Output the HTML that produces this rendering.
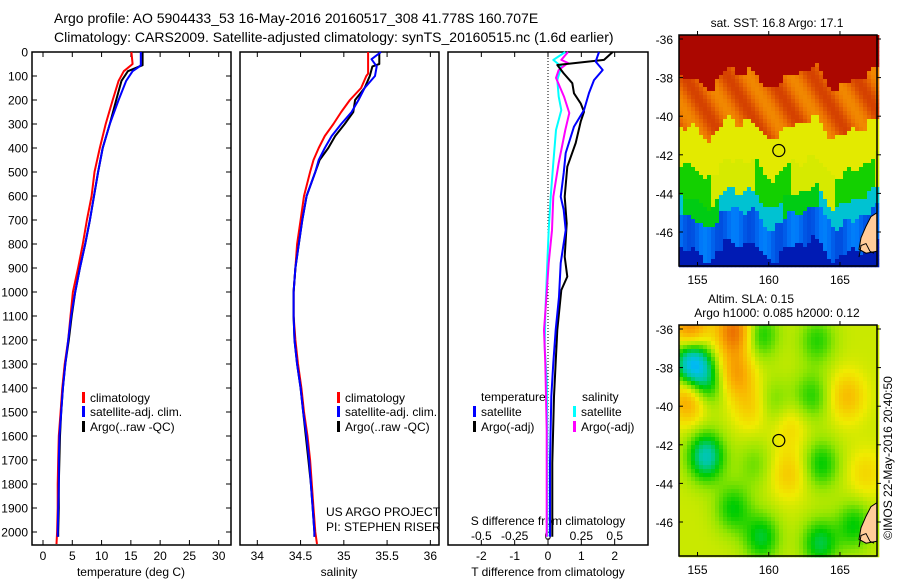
<!DOCTYPE html>
<html><head><meta charset="utf-8"><style>
html,body{margin:0;padding:0;background:#fff;}
svg{display:block;font-family:"Liberation Sans",sans-serif;}
text{fill:#000;}
</style></head><body>
<svg id="chart" width="900" height="580" viewBox="0 0 900 580" xmlns="http://www.w3.org/2000/svg">
<text x="54" y="23" font-size="14">Argo profile: AO 5904433_53 16-May-2016 20160517_308 41.778S 160.707E</text>
<text x="54" y="42" font-size="14">Climatology: CARS2009. Satellite-adjusted climatology: synTS_20160515.nc (1.6d earlier)</text>
<g id="g"></g>
</svg>
<script>
// ---- data ----
const tempClimP = [0,50,60,80,120,200,300,400,500,600,700,800,900,1000,1100,1200,1300,1400,1500,1600,1700,1800,1900,2000,2050];
const tempClim  = [15.1,15.3,14.8,13.8,12.9,11.9,10.7,9.7,8.8,8.3,7.5,6.8,6.0,5.1,4.7,4.3,3.7,3.3,3.0,2.7,2.6,2.5,2.5,2.4,2.3];
const tempSatP  = [0,55,65,80,120,200,300,400,500,600,700,800,900,1000,1100,1200,1300,1400,1500,1600,1700,1800,1900,2000,2020];
const tempSat   = [16.7,16.7,16.2,15.3,14.2,12.9,11.4,10.2,9.4,8.7,8.0,7.2,6.3,5.5,4.8,4.3,3.8,3.4,3.1,2.8,2.7,2.7,2.6,2.5,2.5];
const tempArgoP = [0,55,65,80,120,200,300,400,500,600,700,800,900,1000,1100,1200,1300,1400,1500,1600,1700,1800,1900,2000,2020];
const tempArgo  = [17.0,17.0,16.0,14.5,13.4,12.5,11.4,10.2,9.4,8.7,8.0,7.2,6.3,5.5,4.9,4.4,3.8,3.4,3.1,2.9,2.8,2.7,2.7,2.6,2.6];
const salClimP = [0,90,100,150,200,250,300,350,400,450,500,600,700,800,900,1000,1100,1200,1300,1400,1500,1600,1700,1800,1900,2000,2050];
const salClim  = [35.28,35.28,35.26,35.20,35.07,34.97,34.88,34.78,34.71,34.65,34.61,34.54,34.50,34.46,34.44,34.42,34.42,34.44,34.47,34.51,34.54,34.58,34.61,34.63,34.65,34.67,34.69];
const salSatP  = [0,30,60,100,150,200,250,300,350,400,450,500,600,700,800,900,1000,1100,1200,1300,1400,1500,1600,1700,1800,1900,2000,2020];
const salSat   = [35.43,35.32,35.38,35.36,35.24,35.17,35.09,34.97,34.86,34.78,34.71,34.67,34.57,34.52,34.48,34.44,34.42,34.42,34.43,34.46,34.50,34.53,34.57,34.60,34.62,34.64,34.66,34.66];
const salArgoP = [0,50,60,100,150,200,250,300,350,400,450,500,600,700,800,900,1000,1100,1200,1300,1400,1500,1600,1700,1800,1900,2000,2020];
const salArgo  = [35.41,35.41,35.33,35.30,35.24,35.13,35.11,35.01,34.90,34.82,34.72,34.67,34.57,34.52,34.48,34.44,34.42,34.42,34.43,34.46,34.50,34.53,34.56,34.59,34.62,34.64,34.66,34.66];
const dTsatP = [0,40,75,117,171,242,311,421,504,603,658,742,879,1020,1158,1296,1436,1712,2020];
const dTsat  = [1.53,1.43,1.64,1.38,1.23,1.08,0.78,0.53,0.47,0.38,0.47,0.53,0.38,0.33,0.23,0.16,0.10,0.06,0.06];
const dTargoP = [0,33,54,89,130,172,214,249,290,379,478,603,714,853,936,992,1158,1436,1712,2020];
const dTargo  = [1.94,1.68,0.28,0.47,0.73,0.78,0.98,1.08,0.98,0.83,0.58,0.50,0.56,0.50,0.58,0.40,0.28,0.18,0.13,0.13];
const dSsatP = [0,33,61,117,186,242,325,462,603,742,879,1088,1228,1367,1575,2020];
const dSsat  = [0.13,0.04,0.10,0.07,0.08,0.10,0.06,0.04,0.02,0.005,-0.005,-0.02,-0.025,-0.01,-0.005,-0.005];
const dSargoP = [0,33,46,75,108,186,254,325,462,603,742,879,1088,1158,1296,1575,2020];
const dSargo  = [0.15,0.10,0.15,0.08,0.06,0.12,0.16,0.13,0.08,0.04,0.03,0.005,-0.02,-0.03,-0.02,-0.01,-0.01];
const depthTicks = [0,100,200,300,400,500,600,700,800,900,1000,1100,1200,1300,1400,1500,1600,1700,1800,1900,2000];
const tempTicks = [0,5,10,15,20,25,30];
const salTicks = [34,34.5,35,35.5,36];
const salTickLabels = ["34","34.5","35","35.5","36"];
const dTTicks = [-2,-1,0,1,2];
const dSTicks = [-0.5,-0.25,0,0.25,0.5];
const dSTickLabels = ["-0.5","-0.25","0","0.25","0.5"];
const latTicks = [-36,-38,-40,-42,-44,-46];
const lonTicks = [155,160,165];
const argoLon = 160.707, argoLat = -41.778;

const NS="http://www.w3.org/2000/svg";
const G=document.getElementById('g');
function el(tag,attrs,parent,txt){const e=document.createElementNS(NS,tag);for(const k in attrs)e.setAttribute(k,attrs[k]);if(txt!==undefined)e.textContent=txt;(parent||G).appendChild(e);return e;}
const yTop=52, pxPer=0.24;
const yP = p => yTop + p*pxPer;
const panels=[{x0:32,x1:231,min:-1.88,max:32.1},{x0:240,x1:439,min:33.8,max:36.1},{x0:448,x1:648,min:-3.0,max:3.0}];
const sx=(i,v)=>{const P=panels[i];return P.x0+(v-P.min)/(P.max-P.min)*(P.x1-P.x0);};
const sxS=v=>sx(2,0)+(v/0.5)*(sx(2,2)-sx(2,0));
const yB=yP(2050)+1;

function line(P,V,fx,color,name,w){
  let d='';
  for(let i=0;i<P.length;i++){d+=(i?'L':'M')+fx(V[i]).toFixed(1)+','+yP(P[i]).toFixed(1);}
  const e=el('path',{d:d,fill:'none',stroke:color,'stroke-width':w||2,'stroke-linejoin':'round'});
  
  
}
panels.forEach((P,i)=>{
  const r=el('rect',{x:P.x0,y:yTop,width:P.x1-P.x0,height:yB-yTop,fill:'none',stroke:'#000','stroke-width':1.5});
  
  
});
depthTicks.forEach(p=>{
  const y=yP(p);
  el('line',{x1:32,x2:37,y1:y,y2:y,stroke:'#000'});
  el('line',{x1:226,x2:231,y1:y,y2:y,stroke:'#000'});
  const t=el('text',{x:28,y:y+4.5,'font-size':12,'text-anchor':'end'},G,String(p));
  
  
});
function xticks(i,ticks,labels,fx,ly){
  ticks.forEach((v,k)=>{const x=fx(v);
    el('line',{x1:x,x2:x,y1:yB,y2:yB-5,stroke:'#000'});
    el('line',{x1:x,x2:x,y1:yTop,y2:yTop+5,stroke:'#000'});
    const t=el('text',{x:x,y:ly,'font-size':12,'text-anchor':'middle'},G,labels[k]);
    
    
  });
}
xticks(0,tempTicks,tempTicks.map(String),v=>sx(0,v),560);
xticks(1,salTicks,salTickLabels,v=>sx(1,v),560);
xticks(2,dTTicks,dTTicks.map(String),v=>sx(2,v),560);
dSTicks.forEach((v,k)=>{const t=el('text',{x:sxS(v),y:540,'font-size':12,'text-anchor':'middle'},G,dSTickLabels[k]);
  
  });
[['temperature (deg C)',131,'x-axis-title-temperature'],['salinity',339,'x-axis-title-salinity'],['T difference from climatology',548,'x-axis-title-t-diff']].forEach(a=>{
  const t=el('text',{x:a[1],y:576,'font-size':12,'text-anchor':'middle'},G,a[0]);
  
  });
{const t=el('text',{x:548,y:525,'font-size':12,'text-anchor':'middle'},G,'S difference from climatology');
 
 }
el('line',{x1:sx(2,0),x2:sx(2,0),y1:yTop,y2:yB,stroke:'#000','stroke-dasharray':'1,2','stroke-width':1});
line(tempClimP,tempClim,v=>sx(0,v),'#f00','temp-climatology-line');
line(tempArgoP,tempArgo,v=>sx(0,v),'#000','temp-argo-line');
line(tempSatP,tempSat,v=>sx(0,v),'#00f','temp-satellite-line');
line(salClimP,salClim,v=>sx(1,v),'#f00','sal-climatology-line');
line(salArgoP,salArgo,v=>sx(1,v),'#000','sal-argo-line');
line(salSatP,salSat,v=>sx(1,v),'#00f','sal-satellite-line');
line(dSsatP,dSsat,sxS,'#0ff','s-diff-satellite-line');
line(dSargoP,dSargo,sxS,'#f0f','s-diff-argo-line');
line(dTargoP,dTargo,v=>sx(2,v),'#000','t-diff-argo-line');
line(dTsatP,dTsat,v=>sx(2,v),'#00f','t-diff-satellite-line');
function legItem(x,y,color,label,name){
  el('rect',{x:x,y:y-10,width:3,height:11,fill:color});
  const t=el('text',{x:x+8,y:y,'font-size':12},G,label);
  
  
}
legItem(82,402,'#f00','climatology','legend-climatology');
legItem(82,416,'#00f','satellite-adj. clim.','legend-satellite-adj');
legItem(82,431,'#000','Argo(..raw -QC)','legend-argo');
legItem(337,402,'#f00','climatology','legend-climatology-2');
legItem(337,416,'#00f','satellite-adj. clim.','legend-satellite-adj-2');
legItem(337,431,'#000','Argo(..raw -QC)','legend-argo-2');
{const t=el('text',{x:481,y:401,'font-size':12},G,'temperature');}
{const t=el('text',{x:582,y:401,'font-size':12},G,'salinity');}
legItem(473,416,'#00f','satellite','legend-t-satellite');
legItem(473,431,'#000','Argo(-adj)','legend-t-argo');
legItem(573,416,'#0ff','satellite','legend-s-satellite');
legItem(573,431,'#f0f','Argo(-adj)','legend-s-argo');
{const t=el('text',{x:326,y:516,'font-size':12},G,'US ARGO PROJECT');}
{const t=el('text',{x:326,y:531,'font-size':12},G,'PI: STEPHEN RISER');}

// ---- maps ----
const palStops=[[0,[0,0,140]],[0.12,[0,40,200]],[0.25,[0,120,250]],[0.35,[0,190,240]],[0.43,[0,200,160]],[0.51,[0,205,0]],[0.59,[150,230,0]],[0.66,[240,235,0]],[0.75,[250,175,0]],[0.85,[235,110,0]],[0.93,[205,50,0]],[1,[165,0,0]]];
function pal(v){v=Math.max(0,Math.min(1,v));
  for(let i=1;i<palStops.length;i++){if(v<=palStops[i][0]){const a=palStops[i-1],b=palStops[i],t=(v-a[0])/(b[0]-a[0]);
    return 'rgb('+a[1].map((c,k)=>Math.round(c+(b[1][k]-c)*t)).join(',')+')';}}
  return 'rgb(165,0,0)';}
function makeMap(y0,y1,lat36,lat46,field,name){
  const x0=679,x1=877,lon0=153.7,lon1=167.6;
  const fx=lon=>x0+(lon-lon0)/(lon1-lon0)*(x1-x0);
  const fy=lat=>lat36+(-36-lat)/10*(lat46-lat36);
  const g=el('g',{});
  
  
  const cs=4;
  for(let y=y0;y<y1;y+=cs){for(let x=x0;x<x1;x+=cs){
    const lon=lon0+(x+cs/2-x0)/(x1-x0)*(lon1-lon0);
    const lat=-36-(y+cs/2-lat36)/(lat46-lat36)*10;
    el('rect',{x:x,y:y,width:cs+0.3,height:cs+0.3,fill:pal(field(lon,lat))},g);
  }}
  el('path',{d:'M877,'+(fy(-45.0))+' L871,'+fy(-45.2)+' L866,'+fy(-45.7)+' L861,'+fy(-46.3)+' L859,'+fy(-46.9)+' L866,'+fy(-47.1)+' L877,'+fy(-47.0)+'Z',fill:'#fc9',stroke:'#000','stroke-width':1},g);
  el('path',{d:'M859,'+fy(-47.3)+' L861,'+fy(-46.7)+' L866,'+fy(-46.6)+' L870,'+fy(-47.0)+' L874,'+fy(-47.1),fill:'none',stroke:'#000','stroke-width':1},g);
  const fr=el('rect',{x:x0,y:y0,width:x1-x0,height:y1-y0,fill:'none',stroke:'#000','stroke-width':1.5});
  
  
  latTicks.forEach(l=>{const y=fy(l);el('line',{x1:x0,x2:x0+4,y1:y,y2:y,stroke:'#000'});el('line',{x1:x1,x2:x1+4,y1:y,y2:y,stroke:'#000'});
    const t=el('text',{x:673,y:y+5,'font-size':12,'text-anchor':'end'},G,String(l));
    
    });
  lonTicks.forEach(l=>{const x=fx(l);el('line',{x1:x,x2:x,y1:y1,y2:y1-4,stroke:'#000'});el('line',{x1:x,x2:x,y1:y0,y2:y0-4,stroke:'#000'});
    const t=el('text',{x:x,y:y1+18,'font-size':12,'text-anchor':'middle'},G,String(l));
    
    });
  const c=el('circle',{cx:fx(argoLon),cy:fy(argoLat),r:6,fill:'none',stroke:'#000','stroke-width':1.2});
  
  
  return {fx,fy};
}
function sstField(lon,lat){
  const w=0.45*Math.sin(lon*1.3+0.5)+0.25*Math.sin(lon*2.9+2)+0.15*Math.sin(lon*5.1+lat*2);
  const l=lat+w;
  let v;
  if(l>-38.0) v=0.99;
  else if(l>-40.6) v=0.86+0.05*Math.sin(lon*2.1+lat*1.7);
  else if(l>-42.6) v=0.65;
  else if(l>-44.2) v=(Math.sin(lon*1.1+1.2)>0.1? 0.52:0.64);
  else if(l>-45.2) v=(Math.sin(lon*0.9)>0.4? 0.50:0.38);
  else if(l>-46.9) v=0.22+0.04*Math.sin(lon*3);
  else v=0.08;
  return v;
}
const slaBlobs=[[157.6,-36.1,0.22],[154.5,-36.1,0.2],[154.4,-39.6,0.16],[157.7,-38.3,0.14],[158.8,-40,0.08],[165.5,-39.5,0.1],[161.4,-43.5,0.08],[161.5,-41,0.06],[166.8,-43.5,0.06],
 [154.6,-37.7,-0.3],[155.6,-38.8,-0.14],[155.6,-42.6,-0.22],[159.4,-36.3,-0.12],[163.4,-36.6,-0.1],[163,-39.5,-0.1],[160.3,-39.8,-0.07],[163.7,-43,-0.12],[157.5,-45.3,-0.12],[159.5,-46.8,-0.14],[163.6,-47.1,-0.15],[166,-46.2,-0.12],[159,-43,-0.06]];
function slaField(lon,lat){let v=0.63;slaBlobs.forEach(b=>{v+=b[2]*Math.exp(-((lon-b[0])**2+(lat-b[1])**2)/1.6);});return v;}
makeMap(35,266,39,232,sstField,'sst-map');
makeMap(325,556,329,522,slaField,'sla-map');
{const t=el('text',{x:777,y:27,'font-size':12,'text-anchor':'middle'},G,'sat. SST: 16.8 Argo: 17.1');}
{const t=el('text',{x:751,y:303,'font-size':12,'text-anchor':'middle'},G,'Altim. SLA: 0.15');}
{const t=el('text',{x:777,y:317,'font-size':12,'text-anchor':'middle'},G,'Argo h1000: 0.085 h2000: 0.12');}
{const t=el('text',{x:0,y:0,'font-size':12,'text-anchor':'middle',transform:'translate(892,458) rotate(-90)'},G,'©IMOS 22-May-2016 20:40:50');}
</script>
</body></html>
